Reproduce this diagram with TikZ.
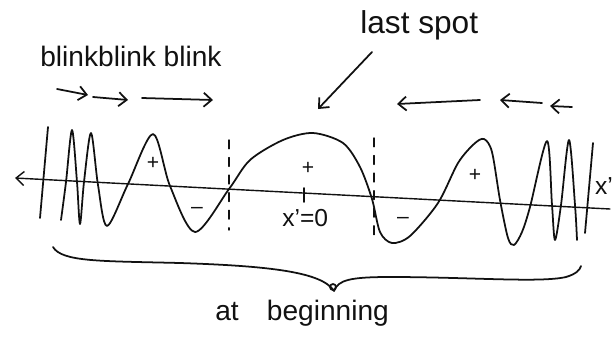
\documentclass[tikz,border=0pt]{standalone}
\usepackage{fontspec}
\setmainfont{Liberation Sans}
\usetikzlibrary{arrows.meta}
\definecolor{ink}{HTML}{111111}

\begin{document}
\begin{tikzpicture}[x=0.02cm,y=-0.02cm,line cap=round,line join=round,pen/.style={draw=ink,line width=1pt},note/.style={text=ink,font=\fontsize{16}{19}\selectfont,inner sep=0pt},small/.style={text=ink,font=\fontsize{14}{16}\selectfont,inner sep=0pt},sign/.style={text=ink,font=\fontsize{12}{14}\selectfont,inner sep=0pt},arrow/.style={pen,-{Straight Barb[length=1.6mm,width=2.8mm]}},guide/.style={draw=ink,line width=.8pt,dash pattern=on 5pt off 5pt}]
 \useasboundingbox (0,0) rectangle (615,345);
 % labels
 \node[note,anchor=base west] (blink) at (40,66) {blinkblink blink};
 \node[note,font=\fontsize{18}{21}\selectfont,anchor=base west] (spot) at (360,33) {last spot};
 \node[note,anchor=base west] (begin) at (215,320) {at\quad beginning};
 \node[small,anchor=base west] (zero) at (282,226) {x’=0}; \node[small] (xr) at (604,186) {x’};
 \node[sign] (p1) at (153,163) {+}; \node[sign] (p2) at (308,168) {+}; \node[sign] (p3) at (475,175) {+};
 \node[sign] (m1) at (197,210) {--}; \node[sign] (m2) at (403,220) {--};
 % arrows
 \coordinate (f1) at (57,89); \coordinate (f2) at (88,95); \coordinate (f3) at (93,97); \coordinate (f4) at (128,100);
 \coordinate (f5) at (142,98); \coordinate (f6) at (213,100);
 \coordinate (b1) at (480,100); \coordinate (b2) at (397,104); \coordinate (b3) at (542,103); \coordinate (b4) at (500,100);
 \coordinate (b5) at (572,107); \coordinate (b6) at (550,106);
 \coordinate (s1) at (372,52); \coordinate (s2) at (318,109);
 \draw[arrow] (f1)--(f2); \draw[arrow] (f3)--(f4); \draw[arrow] (f5)--(f6);
 \draw[arrow] (b1)--(b2); \draw[arrow] (b3)--(b4); \draw[arrow] (b5)--(b6); \draw[arrow] (s1)--(s2);
 % axis and guides
 \coordinate (axr) at (610,209); \coordinate (axl) at (15,178);
 \draw[arrow,line width=.8pt] (axr)--(axl); \draw[pen] (304,188)--(304,202);
 \draw[guide] (229,140)--(229,230); \draw[guide] (374,138)--(374,240);
 % wave
 \draw[pen] (48,127)--(40,218); \draw[pen] (593,143)--(585,233);
 \draw[pen] plot[smooth] coordinates {(61,220) (66,182) (72,130) (77,182) (80,224) (84,182) (91,133) (98,185) (107,226) (128,184) (153,134) (170,186) (195,232) (229,189) (250,160) (283,140) (313,133) (343,143) (360,167) (372,199) (380,232) (392,243) (410,236) (438,203) (458,163) (474,144) (484,139) (492,152) (500,200) (508,238) (514,245) (522,232) (530,207) (547,141) (552,205) (555,240) (561,205) (569,140) (575,205) (577,240)};
 % brace
 \draw[pen] (53,247) .. controls (62,262) and (100,261) .. (180,263) .. controls (270,266) and (322,272) .. (334,291) .. controls (338,280) and (350,277) .. (390,277) .. controls (470,277) and (540,283) .. (566,277) .. controls (576,274) and (580,270) .. (581,266);
 \draw[pen] (333,287) circle (3);
\end{tikzpicture}
\end{document}
